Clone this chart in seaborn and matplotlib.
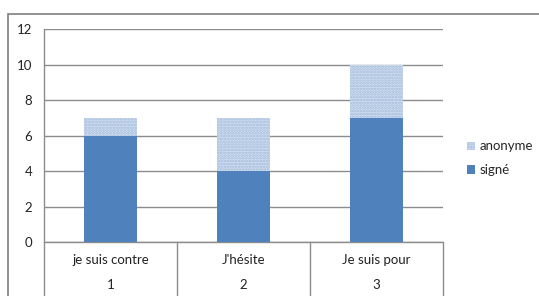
import pandas as pd
import matplotlib.pyplot as plt
import seaborn as sns
from matplotlib.patches import Patch, Rectangle

# Data
categories = ["je suis contre", "J'hésite", "Je suis pour"]
numbers = ["1", "2", "3"]
signe = [6, 4, 7]
anonyme = [1, 3, 3]

df = pd.DataFrame({"cat": categories, "signe": signe, "anonyme": anonyme})
df["total"] = df["signe"] + df["anonyme"]

sns.set_style("white")
plt.rcParams["font.family"] = ["Lato", "DejaVu Sans"]
plt.rcParams["hatch.linewidth"] = 1.3

fig = plt.figure(figsize=(5.39, 2.96), dpi=100)
ax = fig.add_axes([0.0816, 0.182, 0.7404, 0.720])

grid_c = "#8c8c8c"
blue = "#4f81bd"
light = "#d5e1f0"
fs = 9.5

# total bar (anonyme on top) then signé in front
sns.barplot(data=df, x="cat", y="total", color=light, width=0.4, ax=ax,
            hatch="......", edgecolor="#9fb9dc", linewidth=0, saturation=1, zorder=3)
sns.barplot(data=df, x="cat", y="signe", color=blue, width=0.4, ax=ax,
            linewidth=0, saturation=1, zorder=4)

ax.set_ylim(0, 12)
ax.set_xlim(-0.5, 2.5)
ax.set_yticks(range(0, 13, 2))
ax.yaxis.grid(True, color=grid_c, linewidth=1)
ax.set_axisbelow(True)
ax.tick_params(axis="y", length=5, width=1, colors=grid_c, labelcolor="#222222", labelsize=fs)
ax.set_xticks([])
ax.set_xlabel("")
ax.set_ylabel("")
for s in ["top", "right", "bottom"]:
    ax.spines[s].set_visible(False)
ax.spines["left"].set_color(grid_c)
ax.spines["left"].set_linewidth(1)

# category table below the axis
trans = ax.get_xaxis_transform()
for xb in [-0.5, 0.5, 1.5, 2.5]:
    ax.plot([xb, xb], [0, -0.45], color=grid_c, lw=1, transform=trans, clip_on=False)
ax.plot([-0.5, 2.5], [0, 0], color=grid_c, lw=1, transform=trans, clip_on=False)
for i, (c, n) in enumerate(zip(categories, numbers)):
    ax.text(i, -0.085, c, ha="center", va="center", fontsize=fs, color="#222222", transform=trans)
    ax.text(i, -0.2, n, ha="center", va="center", fontsize=fs, color="#222222", transform=trans)

# legend
handles = [Patch(facecolor=light, edgecolor="#9fb9dc", hatch="......", linewidth=0, label="anonyme"),
           Patch(facecolor=blue, linewidth=0, label="signé")]
fig.legend(handles=handles, loc="center left", bbox_to_anchor=(0.845, 0.465), frameon=False,
           fontsize=fs, handlelength=0.6, handleheight=0.6, handletextpad=0.35, labelspacing=0.9)

# outer chart frame
fig.patches.append(Rectangle((8 / 539, -0.1), 1.1, 1 - 14 / 296 + 0.1, transform=fig.transFigure,
                             fill=False, edgecolor="#7f7f7f", linewidth=1.2))

plt.savefig("out.png", dpi=100)
plt.close()
